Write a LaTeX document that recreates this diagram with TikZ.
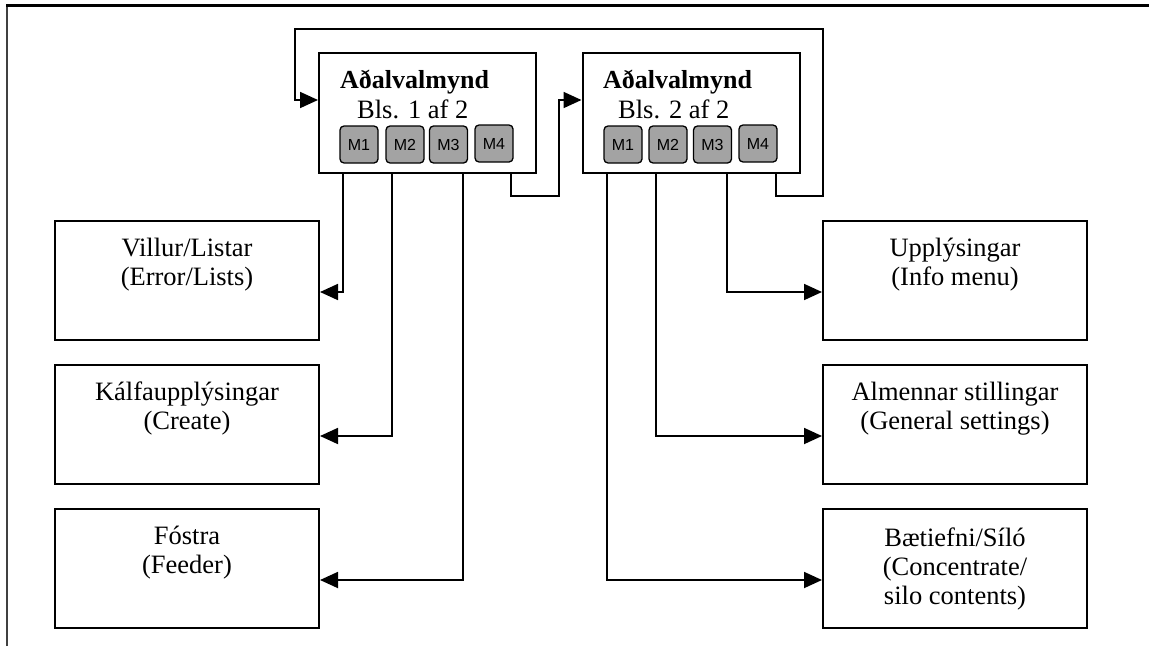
\documentclass[tikz,border=0pt]{standalone}
\usepackage{fontspec}
\setmainfont{Liberation Serif}
\setsansfont{Liberation Sans}
\usetikzlibrary{arrows.meta}
\begin{document}
\begin{tikzpicture}[x=1pt,y=-1pt,
  panel/.style={draw,line width=2pt,minimum width=217pt,minimum height=120pt,inner sep=0pt},
  menubox/.style={draw,line width=2pt,minimum width=264pt,minimum height=119pt,inner sep=0pt,
     align=center,font=\fontsize{26.5}{29}\selectfont},
  btn/.style={draw,line width=1.3pt,rounded corners=4pt,fill=black!36,minimum width=38pt,minimum height=37pt,
     inner sep=0pt,font=\sffamily\fontsize{16}{18}\selectfont},
  ttl/.style={anchor=base west,inner sep=0pt,font=\bfseries\fontsize{26}{29}\selectfont},
  sub/.style={anchor=base west,inner sep=0pt,font=\fontsize{26.5}{29}\selectfont},
  conn/.style={line width=1.8pt,-{Triangle[length=18pt,width=16pt]}}
]
\useasboundingbox (0,0) rectangle (1149,646);
% frame
\draw[line width=2pt,black!75] (7,646) -- (7,5);
\draw[line width=3pt] (6,5) -- (1149,5);

% panels
\node[panel] (p1) at (427.5,113) {};
\node[panel] (p2) at (691,113) {};
\node[ttl] (t1) at (340,88) {Aðalvalmynd};
\node[sub] (s1) at (357,118) {Bls. 1 af 2};
\node[ttl] (t2) at (603,88) {Aðalvalmynd};
\node[sub] (s2) at (618,118) {Bls. 2 af 2};

\node[btn] (a1) at (359,144.5) {M1};
\node[btn] (a2) at (405,144.5) {M2};
\node[btn] (a3) at (448.5,144.5) {M3};
\node[btn] (a4) at (494,143.5) {M4};
\node[btn] (b1) at (623,144.5) {M1};
\node[btn] (b2) at (668,144.5) {M2};
\node[btn] (b3) at (712.5,144.5) {M3};
\node[btn] (b4) at (758,143.5) {M4};

% menu boxes
\node[menubox] (villur) at (187,280.5) {Villur/Listar\\(Error/Lists)\\\strut};
\node[menubox] (kalf) at (187,424.5) {Kálfaupplýsingar\\(Create)\\\strut};
\node[menubox] (fostra) at (187,568.5) {Fóstra\\(Feeder)\\\strut};
\node[menubox] (upp) at (955,280.5) {Upplýsingar\\(Info menu)\\\strut};
\node[menubox] (alm) at (955,424.5) {Almennar stillingar\\(General settings)\\\strut};
\node[menubox] (baet) at (955,568.5) {Bætiefni/Síló\\(Concentrate/\\silo contents)};

% connector origins on panel bottoms
\coordinate (o1) at (343,173);
\coordinate (o2) at (392,173);
\coordinate (o3) at (463,173);
\coordinate (o4) at (511,173);
\coordinate (q1) at (607,173);
\coordinate (q2) at (656,173);
\coordinate (q3) at (727,173);
\coordinate (q4) at (776,173);

\draw[conn] (o1) |- ([yshift=-11.5pt]villur.east);
\draw[conn] (o2) |- ([yshift=-11.5pt]kalf.east);
\draw[conn] (o3) |- ([yshift=-11.5pt]fostra.east);
\draw[conn] (q3) |- ([yshift=-11.5pt]upp.west);
\draw[conn] (q2) |- ([yshift=-11.5pt]alm.west);
\draw[conn] (q1) |- ([yshift=-11.5pt]baet.west);

\draw[conn] (o4) -- (511,196) -- (559,196) -- (559,100) -- (p2.west |- 0,100);
\draw[conn] (q4) -- (776,196) -- (823,196) -- (823,29) -- (295,29) -- (295,100) -- (p1.west |- 0,100);
\end{tikzpicture}
\end{document}
